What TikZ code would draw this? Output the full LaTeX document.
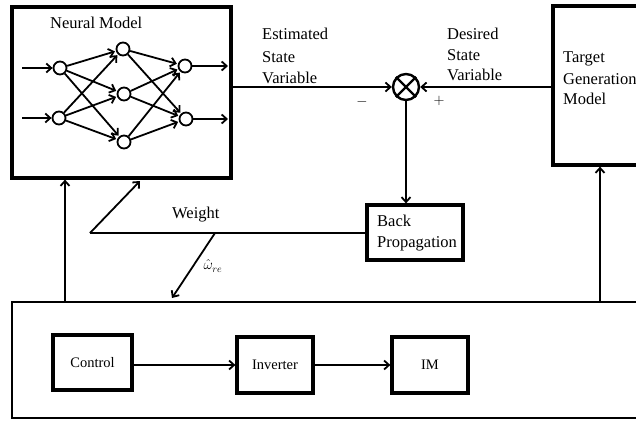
\documentclass[tikz,border=0pt]{standalone}
\usepackage{fontspec}
\setmainfont{Liberation Serif}
\usetikzlibrary{arrows.meta}
\begin{document}
\begin{tikzpicture}[x=1pt,y=-1pt,
  box/.style={draw,line width=3.2pt,inner sep=0pt},
  arr/.style={line width=1.8pt,-{Straight Barb[length=5pt,width=9pt,line width=1.8pt]}},
  nn/.style={circle,draw,line width=1.8pt,minimum size=13pt,inner sep=0pt},
  lbl/.style={font=\fontsize{16.5}{20}\selectfont,inner sep=0pt,anchor=base west},
  sml/.style={font=\fontsize{14.5}{17}\selectfont,inner sep=0pt},
]
\useasboundingbox (0,0) rectangle (636,420);
\clip (0,0) rectangle (636,420);
% neural model box
\node[box,minimum width=219pt,minimum height=171pt] (neural) at (121.5,92.5) {};
\node[lbl] (nmt) at (50,29) {Neural Model};
\node[nn] (i1) at (60,68) {};
\node[nn] (i2) at (59,118) {};
\node[nn] (h1) at (123,49) {};
\node[nn] (h2) at (124,94) {};
\node[nn] (h3) at (124,142) {};
\node[nn] (o1) at (185,66) {};
\node[nn] (o2) at (186,119) {};
\coordinate (a1) at (22,68);
\coordinate (a2) at (22,118);
\coordinate (b1) at (228,66);
\coordinate (b2) at (228,119);
\draw[arr] (a1) -- (i1);
\draw[arr] (a2) -- (i2);
\draw[arr] (o1) -- (b1);
\draw[arr] (o2) -- (b2);
\foreach \i in {i1,i2} \foreach \h in {h1,h2,h3} \draw[arr,shorten >=1pt] (\i) -- (\h);
\foreach \h in {h1,h2,h3} \foreach \o in {o1,o2} \draw[arr,shorten >=1pt] (\h) -- (\o);
% summing junction
\node[circle,draw,line width=2.4pt,minimum size=26pt,inner sep=0pt] (sum) at (406,87) {};
\draw[line width=2.4pt] (sum.north west) -- (sum.south east) (sum.north east) -- (sum.south west);
% target generation
\node[box,minimum width=97pt,minimum height=159pt] (target) at (601.5,85.5) {};
\node[lbl] (t1) at (563,62) {Target};
\node[lbl] (t2) at (563,84) {Generation};
\node[lbl] (t3) at (563,104) {Model};
% labels
\node[lbl] (e1) at (262,40) {Estimated};
\node[lbl] (e2) at (262,62) {State};
\node[lbl] (e3) at (262,83) {Variable};
\node[lbl] (d1) at (447,40) {Desired};
\node[lbl] (d2) at (447,60) {State};
\node[lbl] (d3) at (447,80) {Variable};
\node[sml] (minus) at (362,102) {$-$};
\node[sml] (plus) at (439,101) {$+$};
% back propagation
\node[box,minimum width=96pt,minimum height=55pt] (bp) at (415,232.5) {};
\node[lbl] (bp1) at (377,226) {Back};
\node[lbl] (bp2) at (377,247) {Propagation};
% plant
\node[draw,line width=2.4pt,minimum width=640pt,minimum height=116pt,inner sep=0pt] (plant) at (332,360) {};
\node[box,minimum width=79pt,minimum height=55pt,sml] (ctrl) at (92.5,362.5) {Control};
\node[box,minimum width=76pt,minimum height=56pt,sml] (inv) at (275,365) {Inverter};
\node[box,minimum width=76pt,minimum height=56pt,sml] (im) at (430,365) {IM};
\draw[arr] (ctrl.east |- inv) -- (inv.west);
\draw[arr] (inv) -- (im);
% connectors
\draw[arr] (neural.east |- sum) -- (sum.west);
\draw[arr] (target.west |- sum) -- (sum.east);
\draw[arr] (sum.south) -- (sum.south |- bp.north);
\coordinate (xl) at (65,0);
\coordinate (xt) at (600,0);
\draw[arr] (plant.north -| xl) -- (neural.south -| xl);
\draw[arr] (plant.north -| xt) -- (target.south -| xt);
\coordinate (wl) at (90,233);
\coordinate (wt) at (140,181);
\coordinate (wo) at (215,233);
\coordinate (wb) at (172,298);
\draw[line width=1.8pt] (bp.west |- wl) -- (wl);
\draw[arr] (wl) -- (wt);
\draw[arr] (wo) -- (wb);
\node[lbl] (wtxt) at (172,218) {Weight};
\node[font=\fontsize{14}{16}\selectfont,inner sep=0pt] (om) at (213,266) {$\hat{\omega}_{re}$};
\end{tikzpicture}
\end{document}
